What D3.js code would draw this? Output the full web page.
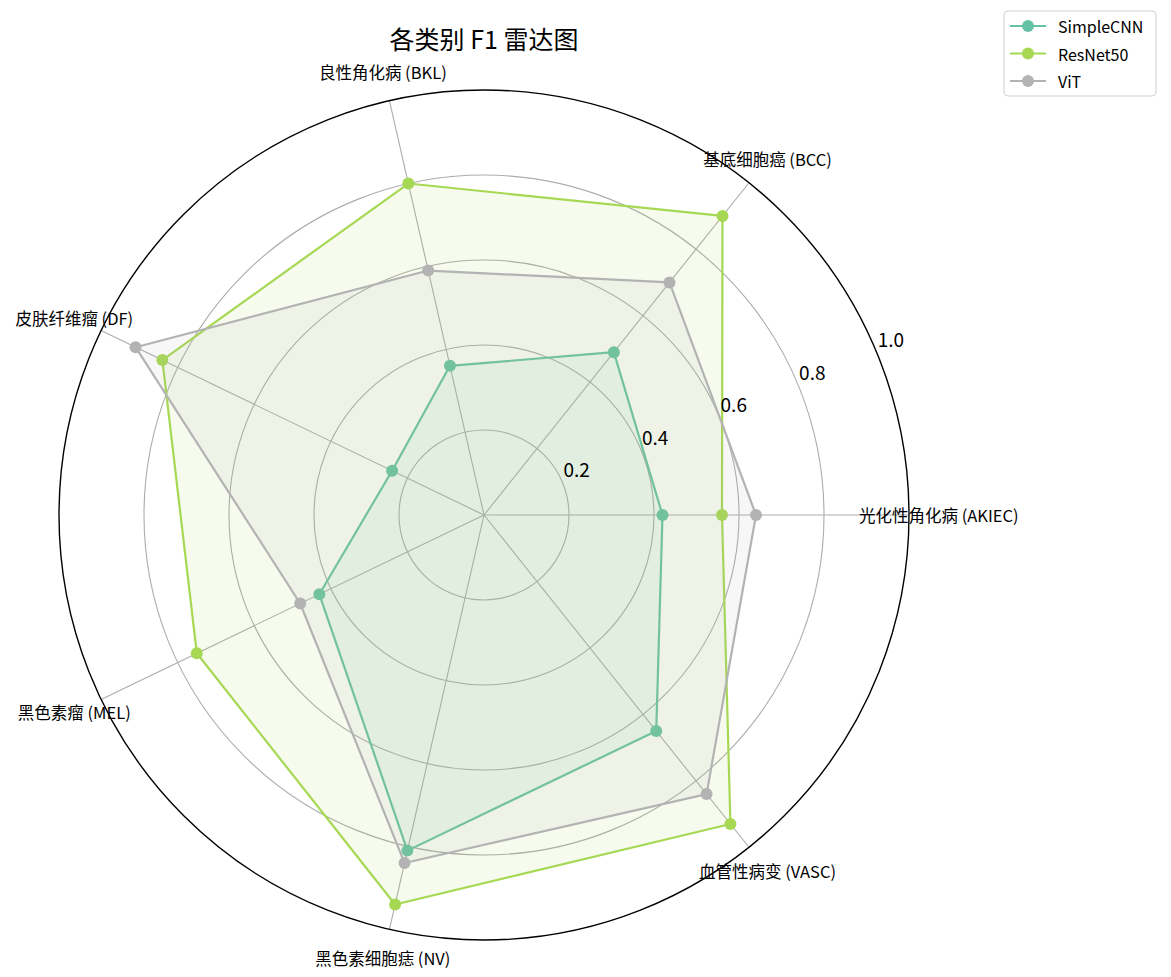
<!DOCTYPE html>
<html>
<head>
<meta charset="utf-8">
<script src="https://cdn.jsdelivr.net/npm/d3@7"></script>
<style>
  body { margin: 0; background: #fff; }
  text { font-family: "Noto Sans CJK SC", "Noto Sans", sans-serif; fill: #000; }
</style>
</head>
<body>
<svg width="1171" height="977"></svg>
<script>
/* globals d3 */

const categories = [
  '光化性角化病 (AKIEC)',
  '基底细胞癌 (BCC)',
  '良性角化病 (BKL)',
  '皮肤纤维瘤 (DF)',
  '黑色素瘤 (MEL)',
  '黑色素细胞痣 (NV)',
  '血管性病变 (VASC)'
];
const models = ['SimpleCNN', 'ResNet50', 'ViT'];
const simpleCNN = [0.42, 0.49, 0.36, 0.24, 0.43, 0.81, 0.65];
const resNet50 = [0.56, 0.90, 0.80, 0.84, 0.75, 0.94, 0.93];
const vit = [0.64, 0.70, 0.59, 0.91, 0.48, 0.84, 0.84];
const rTicks = [0.2, 0.4, 0.6, 0.8, 1.0];

const series = [simpleCNN, resNet50, vit];
const colors = ['#66c2a5', '#a6d854', '#b3b3b3'];

const svg = d3.select('svg');
const cx = 484;
const cy = 515;
const R = 425;

const g = svg.append('g').attr('transform', `translate(${cx},${cy})`);

// radius and angle scales
const r = d3.scaleLinear().domain([0, 1]).range([0, R]);
const theta = d3
  .scaleLinear()
  .domain([0, categories.length])
  .range([0, 2 * Math.PI]);

const px = (i, v) => r(v) * Math.cos(theta(i));
const py = (i, v) => -r(v) * Math.sin(theta(i));

// grid circles
g
  .append('g')
  .selectAll('circle')
  .data(rTicks.slice(0, -1))
  .enter()
  .append('circle')
  .attr('r', d => r(d))
  .attr('fill', 'none')
  .attr('stroke', '#acacac')
  .attr('stroke-width', 1.1);

// spokes
g
  .append('g')
  .selectAll('line')
  .data(categories)
  .enter()
  .append('line')
  .attr('x1', 0)
  .attr('y1', 0)
  .attr('x2', (d, i) => px(i, 1))
  .attr('y2', (d, i) => py(i, 1))
  .attr('stroke', '#acacac')
  .attr('stroke-width', 1.1);

// series: fill, line, markers
const line = d3
  .lineRadial()
  .angle((d, i) => Math.PI / 2 - theta(i))
  .radius(d => r(d))
  .curve(d3.curveLinearClosed);

series.forEach((vals, k) => {
  const s = g.append('g');
  s
    .append('path')
    .attr('d', line(vals))
    .attr('fill', colors[k])
    .attr('fill-opacity', 0.1)
    .attr('stroke', 'none');
  s
    .append('path')
    .attr('d', line(vals))
    .attr('fill', 'none')
    .attr('stroke', colors[k])
    .attr('stroke-width', 2.2)
    .attr('stroke-linejoin', 'round');
  s
    .selectAll('circle')
    .data(vals)
    .enter()
    .append('circle')
    .attr('cx', (d, i) => px(i, d))
    .attr('cy', (d, i) => py(i, d))
    .attr('r', 6)
    .attr('fill', colors[k]);
});

// outer circle
g
  .append('circle')
  .attr('r', r(1))
  .attr('fill', 'none')
  .attr('stroke', '#000')
  .attr('stroke-width', 1.4);

// radial tick labels at 22.5 deg
const labAng = (22.5 * Math.PI) / 180;
g
  .append('g')
  .selectAll('text')
  .data(rTicks)
  .enter()
  .append('text')
  .attr('x', d => r(d) * Math.cos(labAng) + 1)
  .attr('y', d => -r(d) * Math.sin(labAng) - 5)
  .attr('font-size', 19)
  .text(d => d.toFixed(1));

// category labels
g
  .append('g')
  .selectAll('text')
  .data(categories)
  .enter()
  .append('text')
  .attr('x', (d, i) => px(i, 1.07))
  .attr('y', (d, i) => py(i, 1.07))
  .attr('text-anchor', 'middle')
  .attr('dominant-baseline', 'central')
  .attr('font-size', 16.5)
  .text(d => d);

// title
svg
  .append('text')
  .attr('x', cx)
  .attr('y', 49)
  .attr('text-anchor', 'middle')
  .attr('font-size', 25)
  .text('各类别 F1 雷达图');

// legend
const lg = svg.append('g').attr('transform', 'translate(1004,11)');
lg
  .append('rect')
  .attr('width', 152)
  .attr('height', 85)
  .attr('rx', 4)
  .attr('fill', '#fff')
  .attr('stroke', '#d0d0d0');

const items = lg
  .selectAll('g.item')
  .data(models)
  .enter()
  .append('g')
  .attr('class', 'item')
  .attr('transform', (d, i) => `translate(0,${15 + i * 27.5})`);

items
  .append('line')
  .attr('x1', 6)
  .attr('x2', 42)
  .attr('stroke', (d, i) => colors[i])
  .attr('stroke-width', 2.2);

items
  .append('circle')
  .attr('cx', 24)
  .attr('r', 6)
  .attr('fill', (d, i) => colors[i]);

items
  .append('text')
  .attr('x', 54)
  .attr('dominant-baseline', 'central')
  .attr('font-size', 16)
  .text(d => d);
</script>
</body>
</html>
